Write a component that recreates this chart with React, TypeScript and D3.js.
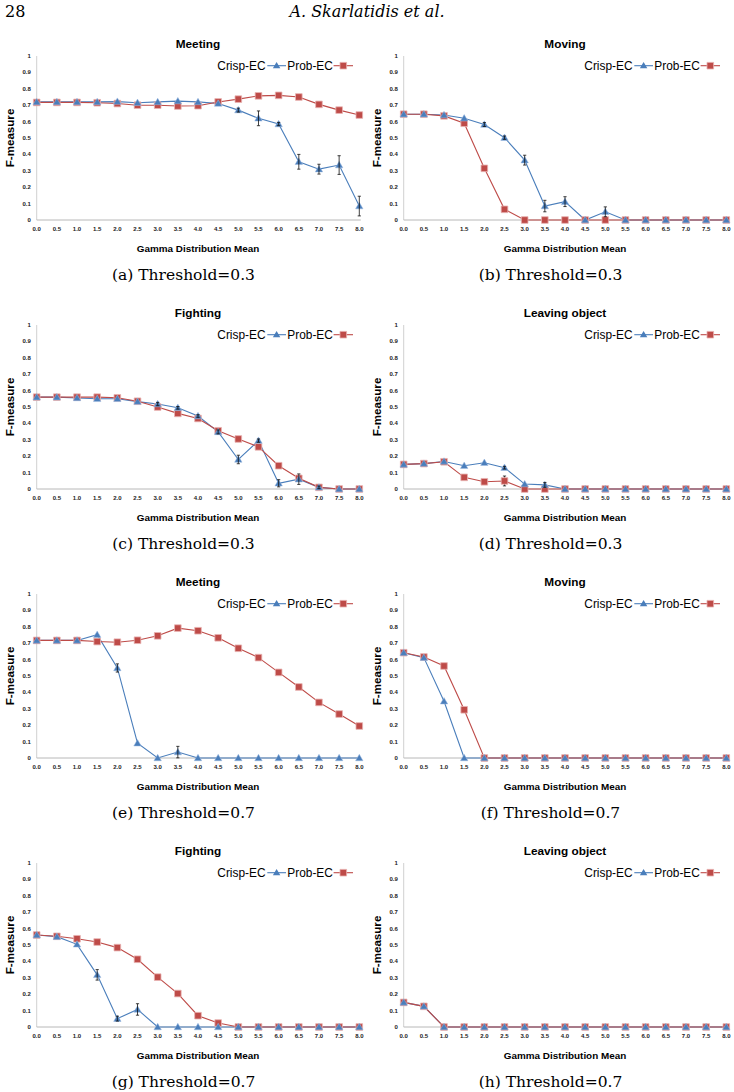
import React from "react";
import * as d3 from "d3";

// x categories (gamma distribution mean)
const gammaMeans = [0, 0.5, 1, 1.5, 2, 2.5, 3, 3.5, 4, 4.5, 5, 5.5, 6, 6.5, 7, 7.5, 8];
const xTickLabels = ["0.0", "0.5", "1.0", "1.5", "2.0", "2.5", "3.0", "3.5", "4.0", "4.5", "5.0", "5.5", "6.0", "6.5", "7.0", "7.5", "8.0"];
const yTicks = [0, 0.1, 0.2, 0.3, 0.4, 0.5, 0.6, 0.7, 0.8, 0.9, 1];
const yTickLabels = ["0", "0.1", "0.2", "0.3", "0.4", "0.5", "0.6", "0.7", "0.8", "0.9", "1"];

// (a) Meeting, threshold 0.3
const meeting03Crisp = [0.72, 0.72, 0.72, 0.72, 0.722, 0.715, 0.72, 0.725, 0.72, 0.71, 0.67, 0.62, 0.585, 0.355, 0.31, 0.335, 0.085];
const meeting03CrispErr = [0, 0, 0, 0, 0, 0, 0, 0, 0, 0, 0.012, 0.045, 0.01, 0.045, 0.03, 0.057, 0.06];
const meeting03Prob = [0.717, 0.717, 0.717, 0.715, 0.71, 0.7, 0.7, 0.695, 0.697, 0.72, 0.737, 0.757, 0.76, 0.75, 0.705, 0.67, 0.64];

// (b) Moving, threshold 0.3
const moving03Crisp = [0.645, 0.645, 0.64, 0.62, 0.582, 0.502, 0.365, 0.085, 0.112, 0, 0.05, 0, 0, 0, 0, 0, 0];
const moving03CrispErr = [0, 0, 0, 0, 0.012, 0.01, 0.03, 0.035, 0.03, 0, 0.03, 0, 0, 0, 0, 0, 0];
const moving03Prob = [0.645, 0.645, 0.635, 0.59, 0.315, 0.065, 0, 0, 0, 0, 0, 0, 0, 0, 0, 0, 0];

// (c) Fighting, threshold 0.3
const fighting03Crisp = [0.56, 0.56, 0.555, 0.55, 0.55, 0.533, 0.518, 0.495, 0.445, 0.348, 0.18, 0.295, 0.035, 0.06, 0.01, 0, 0];
const fighting03CrispErr = [0, 0, 0, 0, 0, 0, 0.01, 0.008, 0.008, 0.012, 0.026, 0.01, 0.022, 0.032, 0.008, 0, 0];
const fighting03Prob = [0.56, 0.56, 0.56, 0.56, 0.556, 0.535, 0.5, 0.461, 0.43, 0.355, 0.305, 0.257, 0.142, 0.065, 0.01, 0, 0];

// (d) Leaving object, threshold 0.3
const leaving03Crisp = [0.15, 0.155, 0.168, 0.142, 0.16, 0.13, 0.03, 0.025, 0, 0, 0, 0, 0, 0, 0, 0, 0];
const leaving03CrispErr = [0, 0, 0, 0, 0, 0.008, 0, 0.015, 0, 0, 0, 0, 0, 0, 0, 0, 0];
const leaving03Prob = [0.15, 0.155, 0.166, 0.071, 0.044, 0.049, 0, 0, 0, 0, 0, 0, 0, 0, 0, 0, 0];
const leaving03ProbErr = [0, 0, 0, 0, 0, 0.03, 0, 0, 0, 0, 0, 0, 0, 0, 0, 0, 0];

// (e) Meeting, threshold 0.7
const meeting07Crisp = [0.717, 0.717, 0.717, 0.752, 0.549, 0.09, 0, 0.036, 0, 0, 0, 0, 0, 0, 0, 0, 0];
const meeting07CrispErr = [0, 0, 0, 0, 0.025, 0, 0, 0.035, 0, 0, 0, 0, 0, 0, 0, 0, 0];
const meeting07Prob = [0.717, 0.717, 0.717, 0.71, 0.706, 0.718, 0.745, 0.792, 0.776, 0.733, 0.669, 0.612, 0.522, 0.433, 0.339, 0.268, 0.195];

// (f) Moving, threshold 0.7
const moving07Crisp = [0.642, 0.612, 0.346, 0, 0, 0, 0, 0, 0, 0, 0, 0, 0, 0, 0, 0, 0];
const moving07Prob = [0.642, 0.616, 0.561, 0.294, 0, 0, 0, 0, 0, 0, 0, 0, 0, 0, 0, 0, 0];

// (g) Fighting, threshold 0.7
const fighting07Crisp = [0.561, 0.551, 0.504, 0.318, 0.051, 0.107, 0, 0, 0, 0, 0, 0, 0, 0, 0, 0, 0];
const fighting07CrispErr = [0, 0, 0, 0.032, 0.015, 0.035, 0, 0, 0, 0, 0, 0, 0, 0, 0, 0, 0];
const fighting07Prob = [0.561, 0.553, 0.538, 0.518, 0.484, 0.413, 0.304, 0.204, 0.069, 0.024, 0, 0, 0, 0, 0, 0, 0];

// (h) Leaving object, threshold 0.7
const leaving07Crisp = [0.15, 0.126, 0, 0, 0, 0, 0, 0, 0, 0, 0, 0, 0, 0, 0, 0, 0];
const leaving07Prob = [0.15, 0.126, 0, 0, 0, 0, 0, 0, 0, 0, 0, 0, 0, 0, 0, 0, 0];

const noErr = gammaMeans.map(() => 0);

interface Panel {
  title: string;
  caption: string;
  crisp: number[];
  crispErr: number[];
  prob: number[];
  probErr: number[];
}

const panels: Panel[] = [
  { title: "Meeting", caption: "(a) Threshold=0.3", crisp: meeting03Crisp, crispErr: meeting03CrispErr, prob: meeting03Prob, probErr: noErr },
  { title: "Moving", caption: "(b) Threshold=0.3", crisp: moving03Crisp, crispErr: moving03CrispErr, prob: moving03Prob, probErr: noErr },
  { title: "Fighting", caption: "(c) Threshold=0.3", crisp: fighting03Crisp, crispErr: fighting03CrispErr, prob: fighting03Prob, probErr: noErr },
  { title: "Leaving object", caption: "(d) Threshold=0.3", crisp: leaving03Crisp, crispErr: leaving03CrispErr, prob: leaving03Prob, probErr: leaving03ProbErr },
  { title: "Meeting", caption: "(e) Threshold=0.7", crisp: meeting07Crisp, crispErr: meeting07CrispErr, prob: meeting07Prob, probErr: noErr },
  { title: "Moving", caption: "(f) Threshold=0.7", crisp: moving07Crisp, crispErr: noErr, prob: moving07Prob, probErr: noErr },
  { title: "Fighting", caption: "(g) Threshold=0.7", crisp: fighting07Crisp, crispErr: fighting07CrispErr, prob: fighting07Prob, probErr: noErr },
  { title: "Leaving object", caption: "(h) Threshold=0.7", crisp: leaving07Crisp, crispErr: noErr, prob: leaving07Prob, probErr: noErr },
];

const W = 734;
const H = 1092;
const BLUE = "#4a7ebb";
const RED = "#be4b48";
const SANS = "'Liberation Sans', Arial, sans-serif";
const SERIF = "'DejaVu Serif', serif";

const triangle = d3.symbol(d3.symbolTriangle, 24)()!;
const square = d3.symbol(d3.symbolSquare, 44)()!;

const ChartPanel: React.FC<{ p: Panel; col: number; row: number }> = ({ p, col, row }) => {
  const ox = col * 367;
  const oy = row * 269;
  const x = d3.scaleLinear().domain([0, 8]).range([36.7, 359.3]);
  const y = d3.scaleLinear().domain([0, 1]).range([220, 56]);
  const line = d3
    .line<number>()
    .x((_, i) => x(gammaMeans[i]))
    .y((d) => y(d));

  const errBars = (vals: number[], errs: number[], key: string) =>
    vals.map((v, i) =>
      errs[i] > 0 ? (
        <g key={key + i} stroke="#111" strokeWidth={0.8}>
          <line x1={x(gammaMeans[i])} x2={x(gammaMeans[i])} y1={y(v - errs[i])} y2={y(v + errs[i])} />
          <line x1={x(gammaMeans[i]) - 1.6} x2={x(gammaMeans[i]) + 1.6} y1={y(v - errs[i])} y2={y(v - errs[i])} />
          <line x1={x(gammaMeans[i]) - 1.6} x2={x(gammaMeans[i]) + 1.6} y1={y(v + errs[i])} y2={y(v + errs[i])} />
        </g>
      ) : null
    );

  const lx = x(0) + 180.6;
  const ly = y(1) + 9.7;

  return (
    <g transform={`translate(${ox},${oy})`}>
      <text x={(x(0) + x(8)) / 2} y={48.3} textAnchor="middle" fontFamily={SANS} fontWeight="bold" fontSize={11.8}>
        {p.title}
      </text>
      {/* axes */}
      <line x1={x(0)} x2={x(0)} y1={y(1)} y2={y(0)} stroke="#d0d0d0" strokeWidth={1} />
      <line x1={x(0)} x2={x(8) + 1.5} y1={y(0)} y2={y(0)} stroke="#b8b8b8" strokeWidth={1} />
      {yTicks.map((t, i) => (
        <text key={"yt" + i} x={30.8} y={y(t) + 2} textAnchor="end" fontFamily={SANS} fontWeight="bold" fontSize={6} fill="#222">
          {yTickLabels[i]}
        </text>
      ))}
      {gammaMeans.map((g, i) => (
        <text key={"xt" + i} x={x(g)} y={y(0) + 11} textAnchor="middle" fontFamily={SANS} fontWeight="bold" fontSize={6} fill="#222">
          {xTickLabels[i]}
        </text>
      ))}
      <text
        transform={`translate(14.2,${(y(0) + y(1)) / 2}) rotate(-90)`}
        textAnchor="middle"
        fontFamily={SANS}
        fontWeight="bold"
        fontSize={11.6}
      >
        F-measure
      </text>
      <text x={(x(0) + x(8)) / 2} y={y(0) + 31.8} textAnchor="middle" fontFamily={SANS} fontWeight="bold" fontSize={9.9}>
        Gamma Distribution Mean
      </text>
      {/* series */}
      <path d={line(p.crisp)!} fill="none" stroke={BLUE} strokeWidth={1.1} />
      <path d={line(p.prob)!} fill="none" stroke={RED} strokeWidth={1.1} />
      {errBars(p.prob, p.probErr, "pe")}
      {p.prob.map((v, i) => (
        <path key={"pm" + i} d={square} transform={`translate(${x(gammaMeans[i])},${y(v)})`} fill={RED} stroke="#e8b4b3" strokeWidth={0.8} />
      ))}
      {p.crisp.map((v, i) => (
        <path key={"cm" + i} d={triangle} transform={`translate(${x(gammaMeans[i])},${y(v) + 0.6})`} fill={BLUE} stroke="#9fbbe0" strokeWidth={0.5} />
      ))}
      {errBars(p.crisp, p.crispErr, "ce")}
      {/* legend */}
      <text x={lx} y={ly + 4.2} fontFamily={SANS} fontSize={11.9}>
        Crisp-EC
      </text>
      <line x1={lx + 50} x2={lx + 68.7} y1={ly} y2={ly} stroke={BLUE} strokeWidth={1.1} />
      <path d={triangle} transform={`translate(${lx + 59.3},${ly + 0.5})`} fill={BLUE} />
      <text x={lx + 70} y={ly + 4.2} fontFamily={SANS} fontSize={11.9}>
        Prob-EC
      </text>
      <line x1={lx + 116.3} x2={lx + 135.7} y1={ly} y2={ly} stroke={RED} strokeWidth={1.1} />
      <path d={square} transform={`translate(${lx + 126},${ly})`} fill={RED} stroke="#e8b4b3" strokeWidth={0.8} />
      {/* caption */}
      <text x={183.5} y={y(0) + 60} textAnchor="middle" fontFamily={SERIF} fontSize={15.5}>
        {p.caption}
      </text>
    </g>
  );
};

export default function App() {
  return (
    <svg width={W} height={H} style={{ position: "absolute", left: 0, top: 0, background: "#fff" }}>
      <rect width={W} height={H} fill="#fff" />
      <text x={5} y={17} fontFamily={SERIF} fontSize={16}>
        28
      </text>
      <text x={367} y={17} textAnchor="middle" fontFamily={SERIF} fontStyle="italic" fontSize={16}>
        A. Skarlatidis et al.
      </text>
      {panels.map((p, i) => (
        <ChartPanel key={i} p={p} col={i % 2} row={Math.floor(i / 2)} />
      ))}
    </svg>
  );
}
